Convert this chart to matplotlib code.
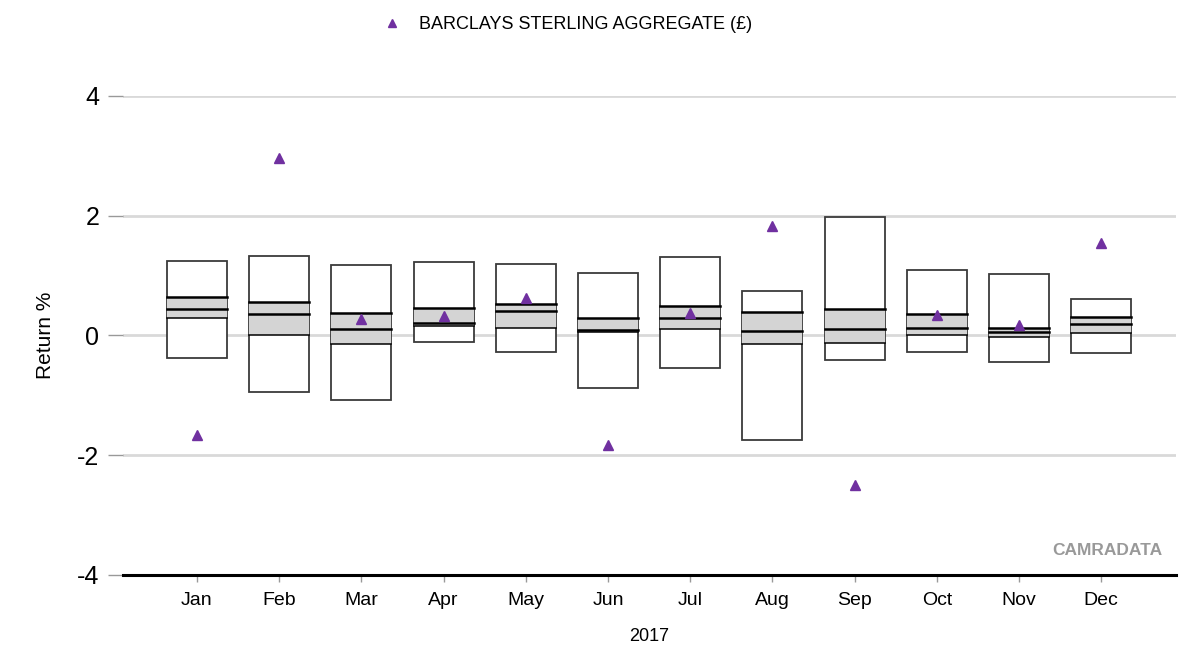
# Grafico de cajas mensuales con indice de referencia
import matplotlib
matplotlib.use("Agg")
import matplotlib.pyplot as plt
from matplotlib.patches import Rectangle

# Datos
meses = ["Jan", "Feb", "Mar", "Apr", "May", "Jun",
         "Jul", "Aug", "Sep", "Oct", "Nov", "Dec"]
maximo = [1.24, 1.32, 1.18, 1.22, 1.20, 1.05, 1.31, 0.75, 1.98, 1.10, 1.03, 0.61]
cuartil_sup = [0.64, 0.56, 0.38, 0.46, 0.53, 0.30, 0.49, 0.39, 0.45, 0.36, 0.12, 0.31]
mediana = [0.44, 0.36, 0.11, 0.21, 0.41, 0.09, 0.29, 0.07, 0.10, 0.12, 0.05, 0.19]
cuartil_inf = [0.29, 0.00, -0.15, 0.16, 0.12, 0.06, 0.10, -0.14, -0.13, 0.00, -0.03, 0.04]
minimo = [-0.38, -0.95, -1.07, -0.11, -0.27, -0.87, -0.55, -1.74, -0.41, -0.28, -0.44, -0.30]
indice = [-1.66, 2.96, 0.28, 0.33, 0.63, -1.83, 0.37, 1.83, -2.50, 0.35, 0.18, 1.55]
nombre_indice = "BARCLAYS STERLING AGGREGATE (£)"

plt.rcParams["font.family"] = ["Liberation Sans", "DejaVu Sans"]

fig = plt.figure(figsize=(11.92, 6.52), dpi=100)
ax = fig.add_axes([0.1032, 0.1181, 0.8834, 0.7347])

ancho = 0.73
posiciones = list(range(len(meses)))

for i in posiciones:
    x0 = i - ancho / 2
    # Caja exterior (min-max)
    ax.add_patch(Rectangle((x0, minimo[i]), ancho, maximo[i] - minimo[i],
                           facecolor="white", edgecolor="#3a3a3a", lw=1.3, zorder=3))
    # Caja gris (cuartiles)
    ax.add_patch(Rectangle((x0, cuartil_inf[i]), ancho, cuartil_sup[i] - cuartil_inf[i],
                           facecolor="#d4d4d4", edgecolor="none", zorder=4))
    ax.plot([x0, x0 + ancho], [cuartil_sup[i]] * 2, color="black", lw=1.8, zorder=5)
    ax.plot([x0, x0 + ancho], [mediana[i]] * 2, color="black", lw=1.8, zorder=5)
    ax.plot([x0, x0 + ancho], [cuartil_inf[i]] * 2, color="black", lw=1.1, zorder=5)

# Indice
linea_indice, = ax.plot(posiciones, indice, linestyle="none", marker="^",
                        markersize=7.5, color="#7030a0", zorder=6, label=nombre_indice)

# Ejes
ax.set_xlim(-0.9, 11.91)
ax.set_ylim(-4, 4)
ax.set_yticks([-4, -2, 0, 2, 4])
ax.set_yticklabels(["-4", "-2", "0", "2", "4"], fontsize=18)
ax.set_xticks(posiciones)
ax.set_xticklabels(meses, fontsize=14)

for y in [-2, 0, 2, 4]:
    ax.axhline(y, color="#d9d9d9", lw=2, zorder=1)

for lado in ["top", "right", "left"]:
    ax.spines[lado].set_visible(False)
ax.spines["bottom"].set_linewidth(2.2)
ax.spines["bottom"].set_color("black")

ax.tick_params(axis="y", length=11, width=1, color="#999999", pad=6)
ax.tick_params(axis="x", length=5, width=1, color="#999999", pad=7)

ax.set_ylabel("Return %", fontsize=15, labelpad=16)
ax.set_xlabel("2017", fontsize=13, labelpad=14)

# Marca de agua
ax.text(0.987, 0.035, "CAMRADATA", transform=ax.transAxes, ha="right", va="bottom",
        fontsize=12.5, fontweight="bold", color="#999999")

# Leyenda
fig.legend(handles=[linea_indice], loc="upper center", bbox_to_anchor=(0.475, 1.0),
           frameon=False, fontsize=13, handletextpad=0.9, markerscale=0.7,
           handlelength=1.2)

fig.savefig("out.png", dpi=100)
